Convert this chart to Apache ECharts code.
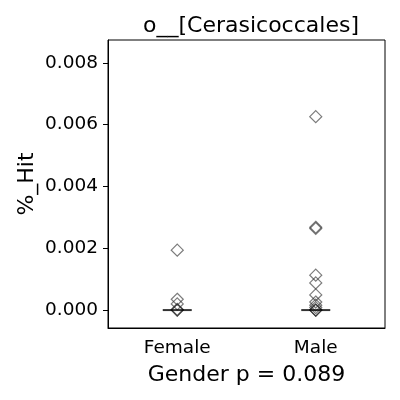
<!DOCTYPE html>
<html><head><meta charset="utf-8">
<script src="https://cdn.jsdelivr.net/npm/echarts@6/dist/echarts.min.js"></script>
<style>html,body{margin:0;padding:0;background:#fff}#c{width:400px;height:400px}</style>
</head><body><div id="c"></div>
<script>
var categories = ['Female', 'Male'];
var femaleValues = [0.00194, 0.00035, 0.0002, 0.00002, 0, 0];
var maleValues = [0.00626, 0.00268, 0.00264, 0.00113, 0.00088, 0.00049, 0.00026, 0.00016, 0.00008, 0, 0, 0];
var medians = [0, 0];
var yTicks = [0, 0.002, 0.004, 0.006, 0.008];
var titleText = 'o__[Cerasicoccales]';
var yName = '%_Hit';
var xName = 'Gender p = 0.089';

var pts = [];
femaleValues.forEach(function(v){ pts.push([categories[0], v]); });
maleValues.forEach(function(v){ pts.push([categories[1], v]); });
var med = medians.map(function(v, i){ return [categories[i], v]; });

var chart = echarts.init(document.getElementById('c'));
var font = 'DejaVu Sans';
chart.setOption({
  animation: false,
  title: { text: titleText, left: 246, top: 10, textAlign: 'center',
    textStyle: { fontFamily: font, fontSize: 22, fontWeight: 'normal', color: '#000' } },
  grid: { left: 108, right: 15, top: 40, bottom: 72, show: true, borderColor: '#000', borderWidth: 1 },
  xAxis: {
    type: 'category', data: categories, boundaryGap: true,
    name: xName, nameLocation: 'middle', nameGap: 36, nameMoveOverlap: false,
    nameTextStyle: { fontFamily: font, fontSize: 22, color: '#000' },
    axisLine: { onZero: false, lineStyle: { color: '#000', width: 1 } },
    axisTick: { alignWithLabel: true, length: 5, lineStyle: { color: '#000' } },
    axisLabel: { fontFamily: font, fontSize: 18.5, color: '#000', margin: 11 }
  },
  yAxis: {
    type: 'value', min: -0.00058, max: 0.00874,
    name: yName, nameLocation: 'middle', nameGap: 70, nameRotate: 90, nameMoveOverlap: false,
    nameTextStyle: { fontFamily: font, fontSize: 22, color: '#000' },
    splitLine: { show: false },
    axisLine: { show: true, lineStyle: { color: '#000', width: 1 } },
    axisTick: { show: true, length: 5, lineStyle: { color: '#000' }, customValues: yTicks },
    axisLabel: { fontFamily: font, fontSize: 18.5, color: '#000', margin: 10, customValues: yTicks,
      formatter: function(v){ return v.toFixed(3); } }
  },
  series: [
    { type: 'scatter', data: pts, symbol: 'diamond', symbolSize: 12,
      itemStyle: { color: 'rgba(0,0,0,0)', borderColor: 'rgba(50,50,50,0.8)', borderWidth: 1.2 }, z: 2 },
    { type: 'scatter', data: med, symbol: 'rect', symbolSize: [29, 2],
      itemStyle: { color: '#000' }, z: 3 }
  ]
});
</script></body></html>
